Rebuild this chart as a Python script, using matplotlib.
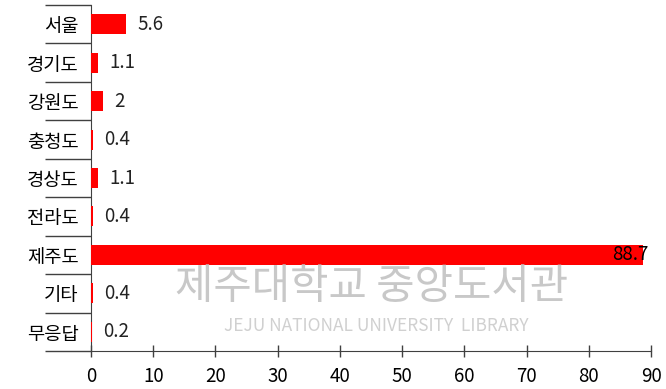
import numpy as np
import matplotlib.pyplot as plt

plt.rcParams['font.family'] = ['Noto Sans CJK KR', 'DejaVu Sans']

# 응답 지역 (위에서 아래 순서)
지역 = ["서울", "경기도", "강원도", "충청도", "경상도", "전라도", "제주도", "기타", "무응답"]
비율 = [5.6, 1.1, 2, 0.4, 1.1, 0.4, 88.7, 0.4, 0.2]
눈금 = [0, 10, 20, 30, 40, 50, 60, 70, 80, 90]

n = len(지역)
ypos = np.arange(n)[::-1]

fig = plt.figure(figsize=(6.66, 3.89), dpi=100)
ax = fig.add_axes([91/666, 1 - 351/389, 560/666, 346/389])

ax.barh(ypos, 비율, height=0.52, color="#ff0000", zorder=3)

ax.set_xlim(0, 90)
ax.set_ylim(-0.5, n - 0.5)
ax.set_xticks(눈금)
ax.set_xticklabels([str(v) for v in 눈금], fontsize=13.5)
ax.tick_params(axis="x", direction="inout", length=9, width=1, color="#404040", pad=6)

# 카테고리 구분선 (왼쪽으로 뻗은 눈금)
ax.set_yticks(np.arange(-0.5, n, 1))
ax.set_yticklabels([])
ax.tick_params(axis="y", which="major", direction="out", length=33, width=1, color="#404040")
ax.set_yticks(ypos, minor=True)
ax.set_yticklabels(지역, minor=True, fontsize=13.5, fontweight="medium")
ax.tick_params(axis="y", which="minor", length=0, pad=9)

for s in ["top", "right"]:
    ax.spines[s].set_visible(False)
for s in ["left", "bottom"]:
    ax.spines[s].set_color("#404040")

# 값 표시
for y, v in zip(ypos, 비율):
    if v > 80:
        ax.annotate(f"{v}", (v, y), xytext=(-22, 0), textcoords="offset points",
                    va="center", ha="left", fontsize=13.5, zorder=4)
    else:
        ax.annotate(f"{v}", (v, y), xytext=(8, 0), textcoords="offset points",
                    va="center", ha="left", fontsize=13.5, color="#222222", zorder=4)

# 워터마크
fig.text(372/666, 1 - 287/389, "제주대학교 중앙도서관", fontsize=30, color="#c8c8c8",
         ha="center", va="center", zorder=0)
fig.text(376/666, 1 - 326/389, "JEJU NATIONAL UNIVERSITY  LIBRARY", fontsize=12.5, color="#d0d0d0",
         ha="center", va="center", zorder=0)

fig.savefig("out.png", dpi=100)
